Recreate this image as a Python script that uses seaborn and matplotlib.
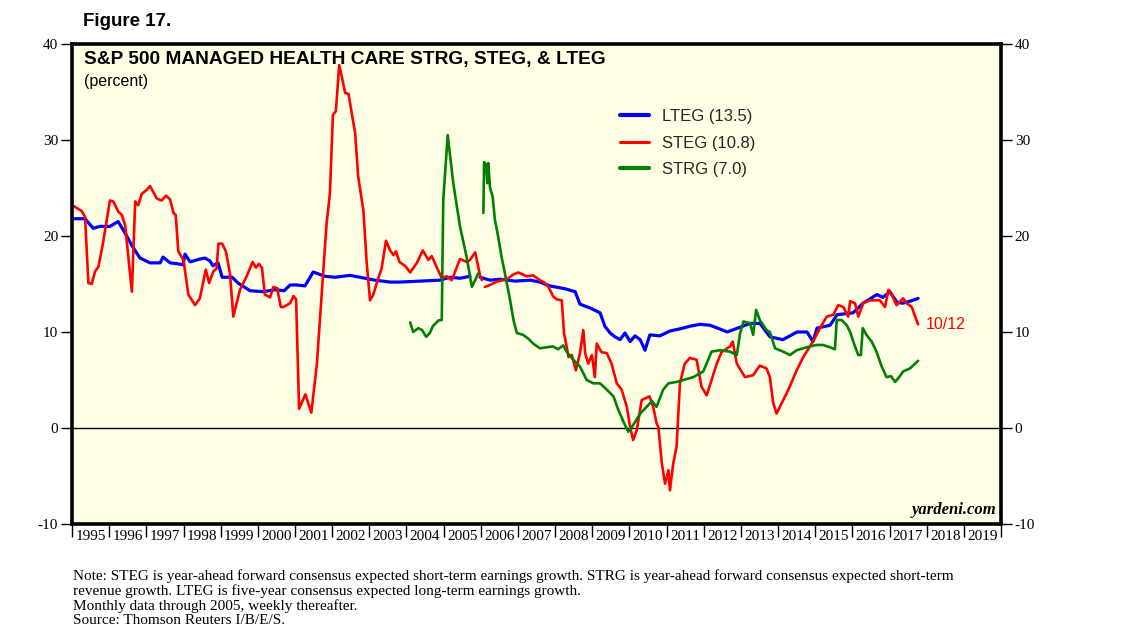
import numpy as np
import pandas as pd
import matplotlib
matplotlib.use("Agg")
import matplotlib.pyplot as plt
from matplotlib.lines import Line2D
import seaborn as sns

# ---------------- data (decimal year, percent) ----------------
lteg_dates = [1995.02, 1995.35, 1995.57, 1995.75, 1996.02, 1996.24, 1996.43, 1996.61, 1996.83,
              1997.10, 1997.37, 1997.45, 1997.64, 1997.85, 1997.99, 1998.04, 1998.18, 1998.44,
              1998.58, 1998.71, 1998.79, 1998.93, 1999.04, 1999.31, 1999.47, 1999.79, 2000.14,
              2000.46, 2000.71, 2000.87, 2001.03, 2001.27, 2001.49, 2001.81, 2002.08, 2002.48,
              2002.88, 2003.15, 2003.56, 2003.83, 2004.37, 2004.90, 2005.17, 2005.44, 2005.71,
              2005.98, 2006.25, 2006.52, 2006.92, 2007.33, 2007.59, 2007.86, 2008.27, 2008.54,
              2008.67, 2008.94, 2009.21, 2009.34, 2009.48, 2009.61, 2009.75, 2009.88, 2010.02,
              2010.15, 2010.29, 2010.42, 2010.55, 2010.82, 2011.09, 2011.44, 2011.63, 2011.90,
              2012.17, 2012.44, 2012.63, 2012.98, 2013.25, 2013.51, 2013.78, 2014.13, 2014.51,
              2014.78, 2014.94, 2015.05, 2015.40, 2015.59, 2016.02, 2016.29, 2016.66, 2016.82,
              2017.01, 2017.20, 2017.36, 2017.55, 2017.77]
lteg_values = [21.8, 21.8, 20.8, 21.0, 21.0, 21.5, 20.3, 19.0, 17.7,
               17.2, 17.2, 17.8, 17.2, 17.1, 17.0, 18.1, 17.3, 17.6,
               17.7, 17.4, 16.9, 17.2, 15.7, 15.7, 15.1, 14.3, 14.2,
               14.4, 14.3, 14.9, 14.9, 14.8, 16.25, 15.8, 15.7, 15.9,
               15.6, 15.4, 15.2, 15.2, 15.3, 15.4, 15.7, 15.6, 15.8,
               15.7, 15.4, 15.5, 15.3, 15.4, 15.2, 14.8, 14.5, 14.2,
               12.9, 12.5, 12.0, 10.6, 9.9, 9.5, 9.2, 9.9, 9.0,
               9.6, 9.2, 8.1, 9.7, 9.6, 10.1, 10.4, 10.6, 10.8,
               10.7, 10.3, 10.0, 10.5, 10.9, 10.9, 9.5, 9.2, 10.0,
               10.0, 9.0, 10.4, 10.7, 11.8, 12.0, 13.0, 13.9, 13.6,
               14.2, 13.1, 13.0, 13.2, 13.5]
lteg_monthly_count = 45

steg_dates = [1995.05, 1995.26, 1995.35, 1995.44, 1995.53, 1995.62, 1995.71, 1995.84, 1996.02,
              1996.11, 1996.25, 1996.34, 1996.43, 1996.61, 1996.70, 1996.78, 1996.88, 1997.01,
              1997.10, 1997.28, 1997.41, 1997.53, 1997.64, 1997.73, 1997.79, 1997.86, 1998.00,
              1998.13, 1998.31, 1998.44, 1998.60, 1998.69, 1998.80, 1998.89, 1998.94, 1999.04,
              1999.14, 1999.25, 1999.34, 1999.52, 1999.70, 1999.86, 1999.95, 2000.03, 2000.11,
              2000.19, 2000.33, 2000.42, 2000.52, 2000.62, 2000.69, 2000.87, 2000.96, 2001.03,
              2001.11, 2001.28, 2001.44, 2001.59, 2001.85, 2001.94, 2002.02, 2002.10, 2002.19,
              2002.26, 2002.35, 2002.44, 2002.62, 2002.70, 2002.84, 2002.93, 2003.02, 2003.11,
              2003.20, 2003.33, 2003.45, 2003.56, 2003.65, 2003.72, 2003.81, 2003.96, 2004.10,
              2004.28, 2004.44, 2004.59, 2004.68, 2004.95, 2005.08, 2005.22, 2005.44, 2005.62,
              2005.71, 2005.85, 2005.98, 2006.03,
              2006.11, 2006.25, 2006.43, 2006.70, 2006.88, 2007.01, 2007.24, 2007.41, 2007.59,
              2007.73, 2007.82, 2007.95, 2008.04, 2008.18, 2008.24, 2008.31, 2008.36, 2008.45,
              2008.56, 2008.67, 2008.76, 2008.81, 2008.89, 2008.99, 2009.07, 2009.12, 2009.25,
              2009.39, 2009.52, 2009.66, 2009.79, 2009.93, 2010.02, 2010.10, 2010.20, 2010.33,
              2010.54, 2010.64, 2010.73, 2010.78, 2010.87, 2010.96, 2011.05, 2011.09, 2011.18,
              2011.27, 2011.36, 2011.49, 2011.63, 2011.81, 2011.94, 2012.08, 2012.17, 2012.35,
              2012.48, 2012.71, 2012.78, 2012.89, 2013.11, 2013.33, 2013.51, 2013.69, 2013.78,
              2013.87, 2013.96, 2014.10, 2014.28, 2014.50, 2014.68, 2014.86, 2014.99, 2015.13,
              2015.31, 2015.49, 2015.62, 2015.76, 2015.89, 2015.94, 2016.07, 2016.16, 2016.29,
              2016.47, 2016.74, 2016.88, 2016.97, 2017.06, 2017.19, 2017.37, 2017.46, 2017.60,
              2017.69, 2017.77]
steg_values = [23.1, 22.6, 22.0, 15.1, 15.0, 16.3, 16.8, 19.4, 23.7,
               23.6, 22.5, 22.2, 21.1, 14.2, 23.6, 23.2, 24.4, 24.8,
               25.2, 23.9, 23.7, 24.2, 23.8, 22.4, 22.2, 18.4, 17.5,
               13.9, 12.8, 13.5, 16.5, 15.1, 16.3, 16.6, 19.2, 19.2,
               18.4, 16.1, 11.6, 14.4, 15.8, 17.3, 16.7, 17.1, 16.7,
               13.9, 13.6, 14.7, 14.55, 12.6, 12.6, 13.0, 13.75, 13.4,
               2.0, 3.5, 1.6, 6.7, 21.3, 24.4, 32.6, 33.0, 37.8,
               36.6, 34.9, 34.8, 30.7, 26.2, 22.7, 17.2, 13.3, 13.9,
               15.1, 16.6, 19.5, 18.5, 18.0, 18.4, 17.3, 16.9, 16.2,
               17.2, 18.5, 17.5, 17.9, 15.6, 15.8, 15.4, 17.6, 17.3,
               17.5, 18.3, 15.9, 15.4,
               14.7, 14.9, 15.25, 15.5, 16.0, 16.2, 15.8, 15.9, 15.4,
               15.1, 14.7, 13.7, 13.4, 13.3, 9.9, 8.5, 7.4, 7.6,
               6.0, 7.8, 10.2, 7.8, 6.7, 7.6, 5.3, 8.8, 7.9,
               7.8, 6.7, 4.65, 4.0, 2.2, 0.1, -1.25, -0.2, 2.9,
               3.3, 2.2, 0.5, 0.1, -3.6, -5.8, -4.4, -6.5, -3.7,
               -1.9, 4.65, 6.7, 7.3, 7.1, 4.3, 3.4, 4.5, 6.7,
               7.9, 8.5, 9.0, 6.7, 5.3, 5.5, 6.5, 6.2, 5.3,
               2.6, 1.5, 2.6, 4.0, 6.0, 7.4, 8.5, 9.35, 10.4,
               11.6, 11.8, 12.8, 12.6, 11.6, 13.2, 13.0, 11.6, 13.0,
               13.3, 13.3, 12.6, 14.4, 13.9, 12.8, 13.5, 13.0, 12.6,
               11.6, 10.8]
steg_monthly_count = 94  # first 94 points are monthly data (through 2005)

strg_dates = [2004.10, 2004.18, 2004.32, 2004.42, 2004.53, 2004.63, 2004.71, 2004.86, 2004.95,
              2004.99, 2005.11, 2005.26, 2005.44, 2005.62, 2005.76, 2005.85, 2005.93,
              2006.07, 2006.09, 2006.14, 2006.18, 2006.20, 2006.25, 2006.32, 2006.38, 2006.47,
              2006.56, 2006.65, 2006.79, 2006.88, 2006.97, 2007.14, 2007.28, 2007.41, 2007.59,
              2007.76, 2007.94, 2008.08, 2008.22, 2008.31, 2008.49, 2008.67, 2008.85, 2009.03,
              2009.21, 2009.39, 2009.57, 2009.70, 2009.84, 2009.97, 2010.10, 2010.29, 2010.51,
              2010.61, 2010.73, 2010.91, 2011.05, 2011.27, 2011.45, 2011.72, 2011.99, 2012.12,
              2012.21, 2012.44, 2012.71, 2012.89, 2012.98, 2013.07, 2013.25, 2013.33, 2013.41,
              2013.51, 2013.69, 2013.78, 2013.92, 2014.14, 2014.32, 2014.50, 2014.68, 2014.86,
              2015.04, 2015.21, 2015.40, 2015.53, 2015.58, 2015.71, 2015.85, 2015.94, 2016.07,
              2016.16, 2016.23, 2016.28, 2016.38, 2016.52, 2016.65, 2016.79, 2016.92, 2017.04,
              2017.15, 2017.24, 2017.37, 2017.55, 2017.77]
strg_values = [11.0, 10.0, 10.4, 10.2, 9.5, 9.9, 10.6, 11.2, 11.25,
               23.75, 30.5, 25.5, 21.0, 17.8, 14.7, 15.4, 16.1,
               22.4, 27.7, 27.4, 25.5, 27.6, 25.0, 24.1, 21.7, 19.9,
               17.8, 16.1, 13.3, 11.25, 9.9, 9.7, 9.3, 8.8, 8.3,
               8.4, 8.5, 8.2, 8.6, 7.95, 7.1, 6.4, 5.0, 4.65,
               4.65, 4.0, 3.3, 1.9, 0.65, -0.4, 0.3, 1.5, 2.4,
               2.8, 2.2, 4.0, 4.65, 4.8, 5.0, 5.3, 5.9, 7.1,
               7.95, 8.1, 7.95, 7.6, 9.9, 11.1, 10.9, 9.7, 12.3,
               11.25, 10.2, 10.0, 8.3, 7.95, 7.6, 8.1, 8.3, 8.5,
               8.65, 8.65, 8.4, 8.2, 11.25, 11.25, 10.7, 10.0, 8.5,
               7.6, 7.6, 10.4, 9.7, 9.0, 7.95, 6.4, 5.3, 5.4,
               4.8, 5.2, 5.9, 6.2, 7.0]
strg_monthly_count = 17

legend_labels = ["LTEG (13.5)", "STEG (10.8)", "STRG (7.0)"]
year_labels = [str(y) for y in range(1995, 2020)]
y_ticks = [-10, 0, 10, 20, 30, 40]


def to_frame(dates, values, n_monthly):
    seg = ["monthly"] * n_monthly + ["weekly"] * (len(dates) - n_monthly)
    return pd.DataFrame({"date": dates, "value": values, "segment": seg})


lteg = to_frame(lteg_dates, lteg_values, lteg_monthly_count)
steg = to_frame(steg_dates, steg_values, steg_monthly_count)
strg = to_frame(strg_dates, strg_values, strg_monthly_count)

# ---------------- figure ----------------
sns.set_theme(style="white")
plt.rcParams["font.family"] = ["Liberation Sans", "DejaVu Sans"]
plt.rcParams["axes.unicode_minus"] = False

BLUE = "#0000FF"
RED = "#FF0000"
GREEN = "#008000"
SERIF = ["Liberation Serif", "DejaVu Serif"]

fig = plt.figure(figsize=(11.38, 6.42), dpi=100)
ax = fig.add_axes([0.0633, 0.1838, 0.8163, 0.7477])
ax.set_facecolor("#FFFFE6")

sns.lineplot(data=lteg, x="date", y="value", units="segment", estimator=None,
             color=BLUE, linewidth=2.3, ax=ax, sort=False)
sns.lineplot(data=steg, x="date", y="value", units="segment", estimator=None,
             color=RED, linewidth=1.9, ax=ax, sort=False)
sns.lineplot(data=strg, x="date", y="value", units="segment", estimator=None,
             color=GREEN, linewidth=1.9, ax=ax, sort=False)

ax.axhline(0, color="black", linewidth=1.0, zorder=1)

ax.set_xlim(1995, 2020)
ax.set_ylim(-10, 40)
ax.set_xlabel("")
ax.set_ylabel("")

for s in ax.spines.values():
    s.set_color("black")
    s.set_linewidth(2.6)
    s.set_visible(True)

ax.set_yticks(y_ticks)
ax.tick_params(axis="y", which="major", direction="out", length=8, width=1.0,
               left=True, right=True, labelleft=True, labelright=True,
               labelsize=11, pad=2, colors="black")
for lab in ax.get_yticklabels():
    lab.set_family(SERIF)

ax.set_xticks(np.arange(1995, 2021))
ax.set_xticklabels([])
ax.set_xticks(np.arange(1995, 2020) + 0.5, minor=True)
ax.set_xticklabels(year_labels, minor=True)
ax.tick_params(axis="x", which="major", direction="out", length=9, width=1.0,
               bottom=True, top=False, colors="black")
ax.tick_params(axis="x", which="minor", length=0, labelsize=11, pad=4,
               colors="black")
for lab in ax.get_xticklabels(minor=True):
    lab.set_family(SERIF)

ax.text(0.0125, 0.985, "S&P 500 MANAGED HEALTH CARE STRG, STEG, & LTEG",
        transform=ax.transAxes, ha="left", va="top", fontsize=13.8,
        fontweight="bold", color="black")
ax.text(0.0125, 0.937, "(percent)", transform=ax.transAxes, ha="left", va="top",
        fontsize=11.5, color="black")

handles = [Line2D([], [], color=BLUE, linewidth=3.0),
           Line2D([], [], color=RED, linewidth=2.2),
           Line2D([], [], color=GREEN, linewidth=3.0)]
ax.legend(handles, legend_labels, loc="upper left",
          bbox_to_anchor=(0.583, 0.878), frameon=False, fontsize=12,
          handlelength=1.75, handletextpad=0.75, labelspacing=0.68,
          borderaxespad=0.0)

ax.text(2017.98, steg_values[-1], "10/12", color=RED, fontsize=11.5,
        ha="left", va="center")

ax.text(0.995, 0.012, "yardeni.com", transform=ax.transAxes, ha="right",
        va="bottom", fontsize=12, fontweight="bold", fontstyle="italic",
        family=SERIF, color="black")

fig.text(83 / 1138, 1 - 21 / 642, "Figure 17.", ha="left", va="center",
         fontsize=13.5, fontweight="bold", color="black")

notes = ("Note: STEG is year-ahead forward consensus expected short-term earnings growth. "
         "STRG is year-ahead forward consensus expected short-term\n"
         "revenue growth. LTEG is five-year consensus expected long-term earnings growth.\n"
         "Monthly data through 2005, weekly thereafter.\n"
         "Source: Thomson Reuters I/B/E/S.")
fig.text(73 / 1138, 1 - 569 / 642, notes, ha="left", va="top", fontsize=11,
         family=SERIF, linespacing=1.12, color="black")

fig.savefig("out.png", dpi=100, facecolor="white")
